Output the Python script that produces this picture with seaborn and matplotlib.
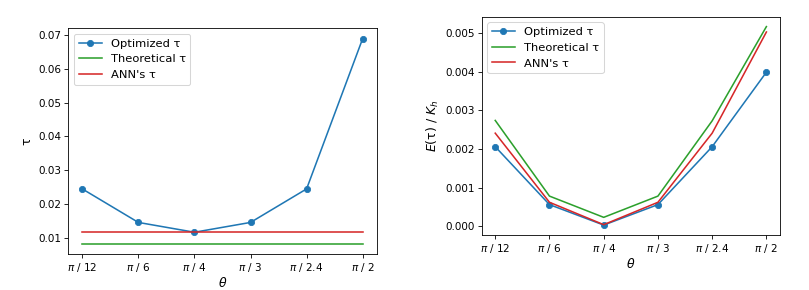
import numpy as np
import matplotlib
matplotlib.use("Agg")
import matplotlib.pyplot as plt
import matplotlib.ticker as mticker
import seaborn as sns

# angoli (etichette asse x)
theta_labels = [r"$\pi$ / 12", r"$\pi$ / 6", r"$\pi$ / 4", r"$\pi$ / 3", r"$\pi$ / 2.4", r"$\pi$ / 2"]

# pannello sinistro: tau
tau_opt = [0.0245, 0.0146, 0.0117, 0.0146, 0.0245, 0.0689]
tau_theo = [0.0083] * 6
tau_ann = [0.0117] * 6

# pannello destro: E(tau) / K_h
err_opt = [0.00206, 0.00056, 0.00003, 0.00056, 0.00206, 0.00399]
err_theo = [0.00274, 0.00078, 0.00023, 0.00078, 0.00273, 0.00517]
err_ann = [0.00241, 0.00062, 0.00004, 0.00062, 0.00241, 0.00503]

plt.rcParams["font.family"] = ["DejaVu Sans"]

x = np.arange(len(theta_labels))
blue, green, red = "#1f77b4", "#2ca02c", "#d62728"

# figura a 75 dpi -> 809x290 px
DPI = 75
fig = plt.figure(figsize=(809 / DPI, 290 / DPI), dpi=DPI)
ax1 = fig.add_axes([0.0844, 0.1241, 0.3812, 0.778])
ax2 = fig.add_axes([0.5954, 0.1897, 0.3687, 0.7528])


def draw(ax, opt, theo, ann):
    sns.lineplot(x=x, y=opt, ax=ax, color=blue, marker="o", markersize=6,
                 markeredgecolor=blue, linewidth=1.5, label="Optimized τ")
    sns.lineplot(x=x, y=theo, ax=ax, color=green, linewidth=1.5, label="Theoretical τ")
    sns.lineplot(x=x, y=ann, ax=ax, color=red, linewidth=1.5, label="ANN's τ")
    ax.set_xticks(x)
    ax.set_xticklabels(theta_labels)
    ax.set_xlabel(r"$\theta$", fontsize=12, labelpad=2)
    ax.legend(loc="upper left", fontsize=11)


draw(ax1, tau_opt, tau_theo, tau_ann)
ax1.set_ylabel("τ", fontsize=12)
ax1.set_yticks([0.01, 0.02, 0.03, 0.04, 0.05, 0.06, 0.07])

draw(ax2, err_opt, err_theo, err_ann)
ax2.set_ylabel(r"$E$(τ) / $K_h$", fontsize=12)
ax2.set_yticks([0.0, 0.001, 0.002, 0.003, 0.004, 0.005])
ax2.yaxis.set_major_formatter(mticker.FormatStrFormatter("%.3f"))

fig.savefig("out.png", dpi=DPI)
